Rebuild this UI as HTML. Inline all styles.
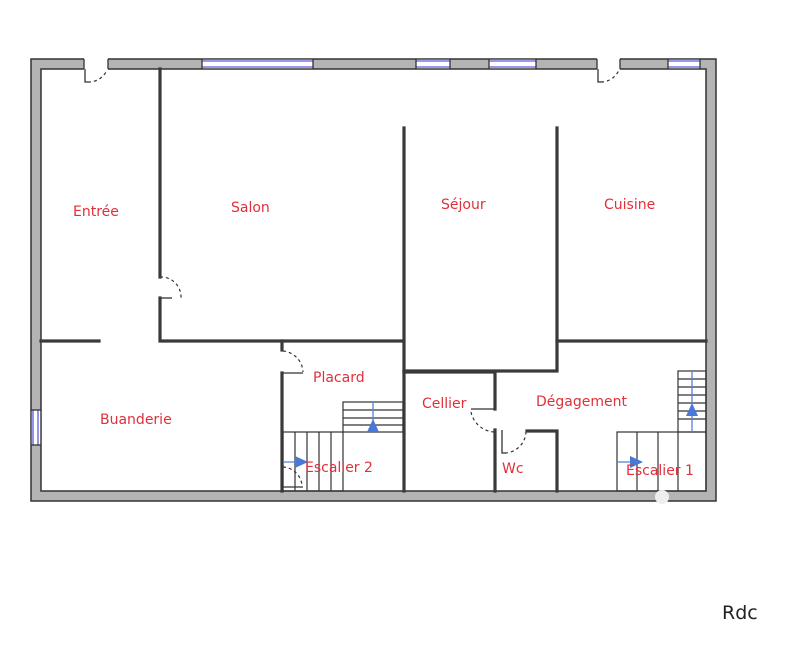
<!DOCTYPE html>
<html><head><meta charset="utf-8"><style>
html,body{margin:0;padding:0;background:#fff;}
svg{display:block}
text{font-family:"DejaVu Sans","Liberation Sans",sans-serif;font-size:14px;fill:#e0303a}
</style></head><body>
<svg width="806" height="646" viewBox="0 0 806 646">
<path d="M31 59 H716 V501 H31 Z M41 69 V491 H706 V69 Z" fill="#b4b4b4" fill-rule="evenodd" stroke="#333" stroke-width="1.5"/>
<g fill="#fff">
<rect x="84" y="57" width="24" height="14"/>
<rect x="597" y="57" width="23" height="14"/>
<rect x="202" y="59.8" width="111" height="8.4"/>
<rect x="416" y="59.8" width="34" height="8.4"/>
<rect x="489" y="59.8" width="47" height="8.4"/>
<rect x="668" y="59.8" width="32" height="8.4"/>
<rect x="31.8" y="410" width="8.4" height="35"/>
</g>
<g stroke="#5a5ae0" stroke-width="1.3">
<line x1="202" y1="61" x2="313" y2="61"/><line x1="202" y1="67" x2="313" y2="67"/>
<line x1="416" y1="61" x2="450" y2="61"/><line x1="416" y1="67" x2="450" y2="67"/>
<line x1="489" y1="61" x2="536" y2="61"/><line x1="489" y1="67" x2="536" y2="67"/>
<line x1="668" y1="61" x2="700" y2="61"/><line x1="668" y1="67" x2="700" y2="67"/>
<line x1="33" y1="410" x2="33" y2="445"/><line x1="38" y1="410" x2="38" y2="445"/>
</g>
<g stroke="#333" stroke-width="1.3">
<line x1="202" y1="59" x2="202" y2="69"/><line x1="313" y1="59" x2="313" y2="69"/>
<line x1="416" y1="59" x2="416" y2="69"/><line x1="450" y1="59" x2="450" y2="69"/>
<line x1="489" y1="59" x2="489" y2="69"/><line x1="536" y1="59" x2="536" y2="69"/>
<line x1="668" y1="59" x2="668" y2="69"/><line x1="700" y1="59" x2="700" y2="69"/>
<line x1="84" y1="59" x2="84" y2="69"/><line x1="108" y1="59" x2="108" y2="69"/>
<line x1="597" y1="59" x2="597" y2="69"/><line x1="620" y1="59" x2="620" y2="69"/>
<line x1="31" y1="410" x2="41" y2="410"/><line x1="31" y1="445" x2="41" y2="445"/>
</g>
<g fill="none" stroke="#333" stroke-width="1.3">
<path d="M85 69 V82 H88"/><path d="M598 69 V82 H601"/>
<path d="M160 298 H172"/><path d="M282 373 H303"/><path d="M471 409 H495"/>
<path d="M502 430 V453 H506"/><path d="M282 487 H303"/>
</g>
<g fill="none" stroke="#333" stroke-width="1.2" stroke-dasharray="3,3">
<path d="M88 82 A20 20 0 0 0 107 70"/><path d="M601 82 A20 20 0 0 0 619 70"/>
<path d="M160 277 A20 20 0 0 1 181 298"/><path d="M283 351 A22 22 0 0 1 303 372"/>
<path d="M471 412 A25 25 0 0 0 495 432"/><path d="M505 453 A22 22 0 0 0 526 431"/>
<path d="M283 467 A20 20 0 0 1 302 487"/>
</g>
<g fill="none" stroke="#3a3a3a" stroke-width="3.2" stroke-linecap="square">
<path d="M160 69 V277"/><path d="M160 298 V341 H403"/>
<path d="M41 341 H99"/>
<path d="M404 128 V491"/><path d="M557 128 V371 H404"/>
<path d="M557 341 H706"/>
<path d="M282 341 V350"/><path d="M282 373 V491"/>
<path d="M404 372 H495 V409"/><path d="M495 430 V491"/>
<path d="M527 431 H557 V491"/>
</g>
<g stroke="#333" stroke-width="1.2" fill="none">
<rect x="343" y="402" width="60" height="30"/>
<line x1="343" y1="410" x2="403" y2="410"/><line x1="343" y1="418" x2="403" y2="418"/><line x1="343" y1="425" x2="403" y2="425"/>
<rect x="283" y="432" width="60" height="59"/>
<line x1="295" y1="432" x2="295" y2="491"/><line x1="307" y1="432" x2="307" y2="491"/><line x1="319" y1="432" x2="319" y2="491"/><line x1="331" y1="432" x2="331" y2="491"/>
<rect x="678" y="371" width="28" height="61"/>
<line x1="678" y1="379" x2="706" y2="379"/><line x1="678" y1="387" x2="706" y2="387"/><line x1="678" y1="395" x2="706" y2="395"/><line x1="678" y1="403" x2="706" y2="403"/><line x1="678" y1="411" x2="706" y2="411"/><line x1="678" y1="419" x2="706" y2="419"/>
<rect x="617" y="432" width="89" height="59"/>
<line x1="637" y1="432" x2="637" y2="491"/><line x1="658" y1="432" x2="658" y2="491"/><line x1="678" y1="432" x2="678" y2="491"/>
</g>
<g stroke="#5b7fd6" stroke-width="1.3">
<line x1="373" y1="402" x2="373" y2="432"/><line x1="283" y1="462" x2="305" y2="462"/>
<line x1="692" y1="371" x2="692" y2="432"/><line x1="617" y1="462" x2="640" y2="462"/>
</g>
<g fill="#4a78d8">
<polygon points="367,432 373,419 379,432"/><polygon points="295,456 308,462 295,468"/>
<polygon points="686,416 692,403 698,416"/><polygon points="630,456 643,462 630,468"/>
</g>
<circle cx="662" cy="497" r="7" fill="#eee"/>
<text x="73" y="216">Entrée</text>
<text x="231" y="212">Salon</text>
<text x="441" y="209">Séjour</text>
<text x="604" y="209">Cuisine</text>
<text x="100" y="424">Buanderie</text>
<text x="313" y="382">Placard</text>
<text x="422" y="408">Cellier</text>
<text x="536" y="406">Dégagement</text>
<text x="305" y="472">Escalier 2</text>
<text x="502" y="473">Wc</text>
<text x="626" y="475">Escalier 1</text>
<text x="722" y="619" style="fill:#222;font-size:19px">Rdc</text>
</svg>
</body></html>
